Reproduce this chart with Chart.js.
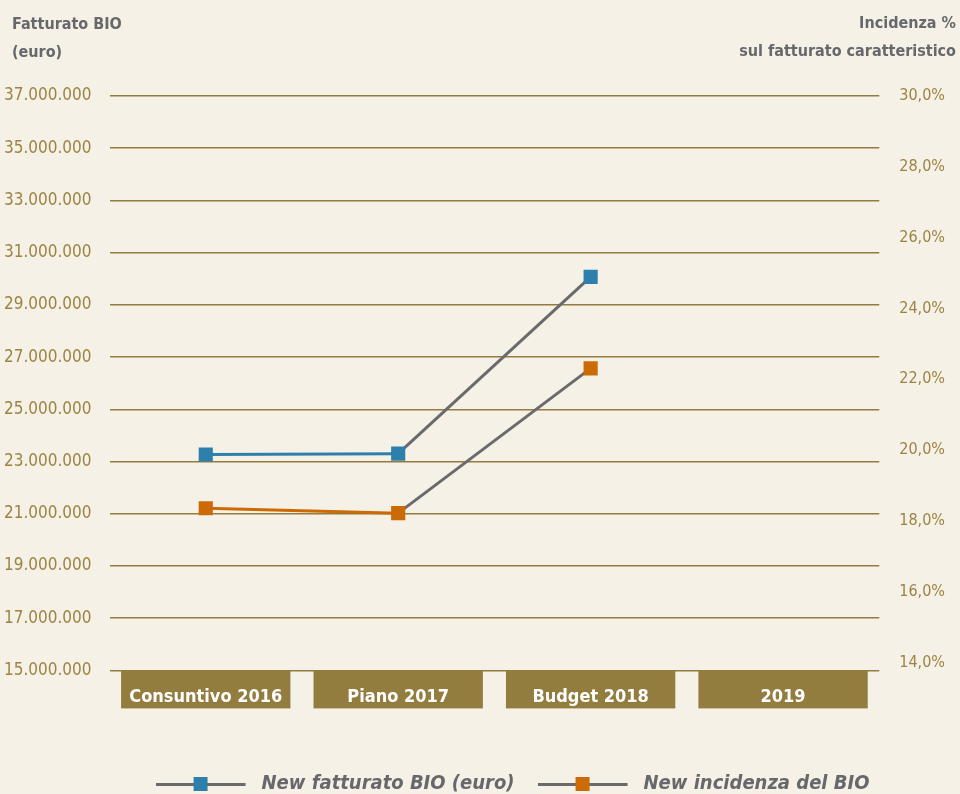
<!DOCTYPE html>
<html>
<head>
<meta charset="utf-8">
<script src="https://cdn.jsdelivr.net/npm/chart.js@4"></script>
<style>
  html, body { margin: 0; padding: 0; background: #f6f1e7; }
  #wrap { width: 960px; height: 794px; }
</style>
</head>
<body>
<div id="wrap"><canvas id="bio-chart"></canvas></div>
<script>
const categories = ['Consuntivo 2016', 'Piano 2017', 'Budget 2018', '2019'];
const fatturato = [23270000, 23300000, 30070000, null]; // euro
const incidenza = [18.36, 18.22, 22.31, null]; // %
const leftTicks = [15000000, 37000000, 2000000]; // min, max, step
const rightTickValues = [14, 16, 18, 20, 22, 24, 26, 28, 30];

const FONT = "'DejaVu Sans Condensed', 'Liberation Sans Narrow', sans-serif";
const OLIVE = '#927d3e';
const TICK_TEXT = '#9b8443';
const GREY_TEXT = '#67686b';
const BLUE = '#2e80ac';
const ORANGE = '#cc6a06';
const LINK = '#6a6a6c';

// legend marker: line with a square in the middle
function legendMarker(color) {
    let c = document.createElement('canvas');
    c.width = 96;
    c.height = 16;
    let ctx = c.getContext('2d');
    ctx.fillStyle = LINK;
    ctx.fillRect(0, 7, 90, 3);
    ctx.fillStyle = color;
    ctx.fillRect(38, 1, 14, 14);
    return c;
}

// background, category boxes and axis titles
const decorations = {
    id: 'decorations',
    afterLayout(chart) {
        // legend sits a bit right of centre in the original
        chart.legend.left += 37;
        chart.legend.right += 37;
    },
    beforeDraw(chart) {
        const ctx = chart.ctx;
        const x = chart.scales.x;
        const area = chart.chartArea;
        ctx.save();
        ctx.fillStyle = '#f6f1e7';
        ctx.fillRect(0, 0, chart.width, chart.height);
        const w = (area.right - area.left) / categories.length * 0.88;
        ctx.fillStyle = OLIVE;
        categories.forEach((c, i) => {
            const cx = x.getPixelForValue(i);
            ctx.fillRect(cx - w / 2, area.bottom, w, 38);
        });
        ctx.restore();
    },
    afterDraw(chart) {
        const ctx = chart.ctx;
        ctx.save();
        ctx.fillStyle = GREY_TEXT;
        ctx.font = 'bold 16px ' + FONT;
        ctx.textBaseline = 'middle';
        ctx.textAlign = 'left';
        ctx.fillText('Fatturato BIO', 12, 25);
        ctx.fillText('(euro)', 12, 53);
        ctx.textAlign = 'right';
        ctx.fillText('Incidenza %', 956, 24);
        ctx.fillText('sul fatturato caratteristico', 956, 52);
        ctx.restore();
    }
};

function euro(v) {
    return String(Math.round(v)).replace(/\B(?=(\d{3})+(?!\d))/g, '.');
}

const segColor = (base) => (c) => c.p0DataIndex === 0 ? base : LINK;

let bioChart = new Chart(document.getElementById('bio-chart').getContext('2d'), {
    type: 'line',
    data: {
        labels: categories,
        datasets: [{
            label: 'New fatturato BIO (euro)',
            data: fatturato,
            yAxisID: 'y',
            borderColor: BLUE,
            backgroundColor: BLUE,
            borderWidth: 3,
            pointStyle: 'rect',
            pointRadius: 10,
            pointHoverRadius: 10,
            pointBorderWidth: 0,
            segment: { borderColor: segColor(BLUE) }
        }, {
            label: 'New incidenza del BIO',
            data: incidenza,
            yAxisID: 'y1',
            borderColor: ORANGE,
            backgroundColor: ORANGE,
            borderWidth: 3,
            pointStyle: 'rect',
            pointRadius: 10,
            pointHoverRadius: 10,
            pointBorderWidth: 0,
            segment: { borderColor: segColor(ORANGE) }
        }]
    },
    options: {
        responsive: true,
        maintainAspectRatio: false,
        animation: false,
        layout: {
            padding: { top: 96, left: -14, right: -5, bottom: -10 }
        },
        scales: {
            x: {
                offset: true,
                grid: { display: false },
                border: { display: false },
                ticks: {
                    color: '#ffffff',
                    padding: 8,
                    maxRotation: 0,
                    autoSkip: false,
                    font: { family: FONT, size: 18, weight: 'bold' }
                },
                afterFit(scale) { scale.height += 35; }
            },
            y: {
                position: 'left',
                min: leftTicks[0],
                max: leftTicks[1],
                border: { display: false },
                grid: { color: OLIVE, lineWidth: 1.5, drawTicks: false },
                ticks: {
                    stepSize: leftTicks[2],
                    padding: 18,
                    color: TICK_TEXT,
                    font: { family: FONT, size: 17 },
                    callback: (v) => euro(v)
                }
            },
            y1: {
                position: 'right',
                min: 13.78,
                max: rightTickValues[rightTickValues.length - 1],
                border: { display: false },
                grid: { display: false, drawTicks: false },
                afterBuildTicks(scale) {
                    scale.ticks = rightTickValues.map(v => ({ value: v }));
                },
                ticks: {
                    padding: 20,
                    color: TICK_TEXT,
                    font: { family: FONT, size: 16 },
                    callback: (v) => v.toFixed(1).replace('.', ',') + '%'
                }
            }
        },
        plugins: {
            legend: {
                position: 'bottom',
                labels: {
                    usePointStyle: true,
                    pointStyleWidth: 96,
                    boxHeight: 16,
                    padding: 23,
                    color: GREY_TEXT,
                    font: { family: FONT, size: 20, weight: 'bold', style: 'italic' },
                    generateLabels(chart) {
                        return chart.data.datasets.map((ds, i) => ({
                            text: ds.label,
                            pointStyle: legendMarker(ds.borderColor),
                            fillStyle: ds.borderColor,
                            strokeStyle: ds.borderColor,
                            lineWidth: 0,
                            fontColor: GREY_TEXT,
                            datasetIndex: i
                        }));
                    }
                }
            },
            tooltip: { enabled: false }
        }
    },
    plugins: [decorations]
});
</script>
</body>
</html>
